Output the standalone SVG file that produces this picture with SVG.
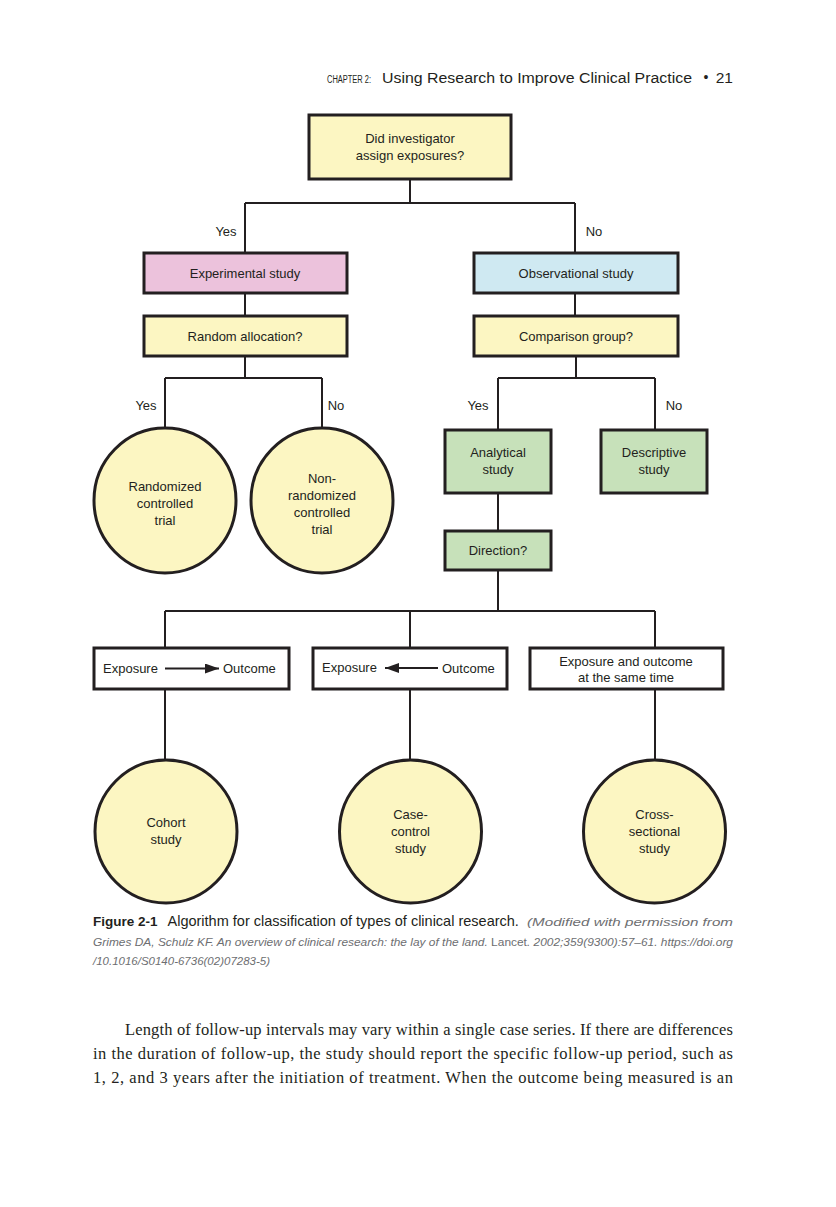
<svg xmlns="http://www.w3.org/2000/svg" width="836" height="1207" viewBox="0 0 836 1207">
<style>
.bg{fill:#ffffff}
.box{stroke:#231f20;stroke-width:3}
.yel{fill:#fcf6c2}
.pink{fill:#ecc2dc}
.blue{fill:#cfe9f2}
.green{fill:#c7e1ba}
.white{fill:#ffffff}
.circ{fill:#fcf6c2;stroke:#231f20;stroke-width:3}
.ln{stroke:#231f20;stroke-width:2;fill:none}
.t{font-family:"Liberation Sans",Arial,sans-serif;font-size:13px;fill:#231f20;text-anchor:middle}
.tl{font-family:"Liberation Sans",Arial,sans-serif;font-size:13px;fill:#231f20}
.hdr{font-family:"Liberation Sans",Arial,sans-serif;fill:#231f20}
.cap{font-family:"Liberation Sans",Arial,sans-serif;fill:#231f20}
.capi{font-family:"Liberation Sans",Arial,sans-serif;font-style:italic;fill:#6d6e71;font-size:11.5px}
.capn{font-family:"Liberation Sans",Arial,sans-serif;font-style:normal;fill:#6d6e71;font-size:11.5px}
.body{font-family:"Liberation Serif","Times New Roman",serif;font-size:16.5px;fill:#231f20}
</style>
<defs>
<marker id="ah" viewBox="0 0 14 10" refX="14" refY="5" markerWidth="7" markerHeight="5" orient="auto-start-reverse" markerUnits="strokeWidth">
<path d="M0,0 L14,5 L0,10 z" fill="#231f20"/>
</marker>
</defs>
<rect class="bg" x="0" y="0" width="836" height="1207"/>

<g id="header">
<text class="hdr" x="327" y="83" font-size="10" textLength="44" lengthAdjust="spacingAndGlyphs">CHAPTER 2:</text>
<text class="hdr" x="382" y="83" font-size="15.5" textLength="310" lengthAdjust="spacingAndGlyphs">Using Research to Improve Clinical Practice</text>
<text class="hdr" x="706" y="82" font-size="14" text-anchor="middle">•</text>
<text class="hdr" x="733" y="83" font-size="15.5" text-anchor="end">21</text>
</g>

<g id="connectors">
<path class="ln" d="M410,179 V203 M245,203 H575 M245,203 V253 M575,203 V253"/>
<path class="ln" d="M245,293 V316 M575,293 V316"/>
<path class="ln" d="M245,356 V378 M165,378 H322 M165,378 V428 M322,378 V428"/>
<path class="ln" d="M576,356 V378 M498,378 H655 M498,378 V430 M655,378 V430"/>
<path class="ln" d="M498,493 V531"/>
<path class="ln" d="M498,570 V611 M165,611 H655 M165,611 V648 M410,611 V648 M655,611 V648"/>
<path class="ln" d="M165,689 V760 M410,689 V760 M655,689 V760"/>
<text class="t" x="226" y="236">Yes</text>
<text class="t" x="594" y="236">No</text>
<text class="t" x="146" y="410">Yes</text>
<text class="t" x="336" y="410">No</text>
<text class="t" x="478" y="410">Yes</text>
<text class="t" x="674" y="410">No</text>
</g>

<g id="n-assign">
<rect class="box yel" x="309" y="115" width="202" height="64"/>
<text class="t" x="410" y="143">Did investigator</text>
<text class="t" x="410" y="160">assign exposures?</text>
</g>

<g id="n-experimental">
<rect class="box pink" x="144" y="253" width="203" height="40"/>
<text class="t" x="245" y="278">Experimental study</text>
</g>

<g id="n-observational">
<rect class="box blue" x="474" y="253" width="204" height="40"/>
<text class="t" x="576" y="278">Observational study</text>
</g>

<g id="n-random">
<rect class="box yel" x="144" y="316" width="203" height="40"/>
<text class="t" x="245" y="341">Random allocation?</text>
</g>

<g id="n-comparison">
<rect class="box yel" x="474" y="316" width="204" height="40"/>
<text class="t" x="576" y="341">Comparison group?</text>
</g>

<g id="n-rct">
<ellipse class="circ" cx="165" cy="500.5" rx="71" ry="72.5"/>
<text class="t" x="165" y="491">Randomized</text>
<text class="t" x="165" y="508">controlled</text>
<text class="t" x="165" y="525">trial</text>
</g>

<g id="n-nonrct">
<ellipse class="circ" cx="322" cy="500.5" rx="71" ry="72.5"/>
<text class="t" x="322" y="483">Non-</text>
<text class="t" x="322" y="500">randomized</text>
<text class="t" x="322" y="517">controlled</text>
<text class="t" x="322" y="534">trial</text>
</g>

<g id="n-analytical">
<rect class="box green" x="445" y="430" width="106" height="63"/>
<text class="t" x="498" y="457">Analytical</text>
<text class="t" x="498" y="474">study</text>
</g>

<g id="n-descriptive">
<rect class="box green" x="601" y="430" width="106" height="63"/>
<text class="t" x="654" y="457">Descriptive</text>
<text class="t" x="654" y="474">study</text>
</g>

<g id="n-direction">
<rect class="box green" x="445" y="531" width="106" height="39"/>
<text class="t" x="498" y="555">Direction?</text>
</g>

<g id="n-forward">
<rect class="box white" x="94" y="648" width="195" height="41"/>
<text class="tl" x="103" y="673">Exposure</text>
<line class="ln" x1="165" y1="668.5" x2="219" y2="668.5" marker-end="url(#ah)"/>
<text class="tl" x="223" y="673">Outcome</text>
</g>

<g id="n-backward">
<rect class="box white" x="313" y="648" width="194" height="41"/>
<text class="tl" x="322" y="672">Exposure</text>
<line class="ln" x1="385" y1="668" x2="438" y2="668" marker-start="url(#ah)"/>
<text class="tl" x="442" y="673">Outcome</text>
</g>

<g id="n-same">
<rect class="box white" x="530" y="648" width="193" height="41"/>
<text class="t" x="626" y="666">Exposure and outcome</text>
<text class="t" x="626" y="682">at the same time</text>
</g>

<g id="n-cohort">
<ellipse class="circ" cx="166" cy="831.5" rx="71" ry="71.5"/>
<text class="t" x="166" y="827">Cohort</text>
<text class="t" x="166" y="844">study</text>
</g>

<g id="n-casecontrol">
<ellipse class="circ" cx="410.5" cy="831.5" rx="71" ry="71.5"/>
<text class="t" x="410.5" y="819">Case-</text>
<text class="t" x="410.5" y="836">control</text>
<text class="t" x="410.5" y="853">study</text>
</g>

<g id="n-cross">
<ellipse class="circ" cx="654.5" cy="831.5" rx="71" ry="71.5"/>
<text class="t" x="654.5" y="819">Cross-</text>
<text class="t" x="654.5" y="836">sectional</text>
<text class="t" x="654.5" y="853">study</text>
</g>

<g id="caption">
<text x="93" y="926"><tspan class="cap" font-weight="bold" font-size="13.5">Figure 2-1</tspan><tspan class="cap" font-size="14.5" dx="10">Algorithm for classification of types of clinical research.</tspan></text>
<text class="capi" x="527" y="926" font-size="12.5" textLength="206" lengthAdjust="spacingAndGlyphs">(Modified with permission from</text>
<text x="93" y="946" textLength="640" lengthAdjust="spacingAndGlyphs"><tspan class="capi">Grimes DA, Schulz KF. An overview of clinical research: the lay of the land. </tspan><tspan class="capn">Lancet</tspan><tspan class="capi">. 2002;359(9300):57–61. https://doi.org</tspan></text>
<text class="capi" x="93" y="965" textLength="177" lengthAdjust="spacingAndGlyphs">/10.1016/S0140-6736(02)07283-5)</text>
</g>

<g id="body">
<text class="body" x="125" y="1035" textLength="608" lengthAdjust="spacing">Length of follow-up intervals may vary within a single case series. If there are differences</text>
<text class="body" x="93" y="1059" textLength="640" lengthAdjust="spacing">in the duration of follow-up, the study should report the specific follow-up period, such as</text>
<text class="body" x="93" y="1083" textLength="640" lengthAdjust="spacing">1, 2, and 3 years after the initiation of treatment. When the outcome being measured is an</text>
</g>
</svg>
